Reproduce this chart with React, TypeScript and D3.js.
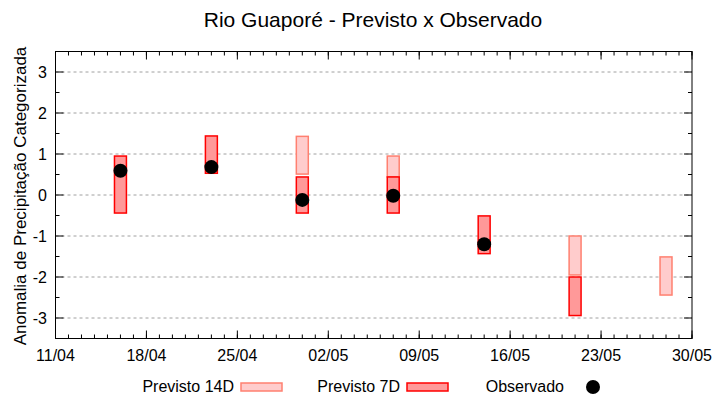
import React from "react";
import * as d3 from "d3";

const dates = ["2024-04-16", "2024-04-23", "2024-04-30", "2024-05-07", "2024-05-14", "2024-05-21", "2024-05-28"];
const prev14Top: (number | null)[] = [null, null, 1.43, 0.95, null, -1.0, -1.51];
const prev14Bot: (number | null)[] = [null, null, 0.51, 0.44, null, -1.95, -2.44];
const prev7Top: (number | null)[] = [0.95, 1.44, 0.44, 0.44, -0.51, -2.0, null];
const prev7Bot: (number | null)[] = [-0.44, 0.53, -0.44, -0.44, -1.43, -2.94, null];
const observed: (number | null)[] = [0.59, 0.68, -0.12, -0.02, -1.2, null, null];
const yTicks = [-3, -2, -1, 0, 1, 2, 3];
const xTickLabels = ["11/04", "18/04", "25/04", "02/05", "09/05", "16/05", "23/05", "30/05"];

const W = 720, H = 400;
const M = { left: 55.5, right: 692, top: 51.5, bottom: 338.5 };
const FONT = "'Liberation Sans', Arial, sans-serif";

const parse = d3.utcParse("%Y-%m-%d");
const start = parse("2024-04-11")!;
const end = parse("2024-05-30")!;

export default function App() {
  const x = d3.scaleUtc().domain([start, end]).range([M.left, M.right]);
  const y = d3.scaleLinear().domain([-3.5, 3.5]).range([M.bottom, M.top]);
  const dayPx = x(d3.utcDay.offset(start, 1)) - x(start);
  const bw = dayPx * 0.92;
  const days = d3.range(0, 50).map((k) => d3.utcDay.offset(start, k));
  const majors = d3.range(0, 50, 7).map((k) => d3.utcDay.offset(start, k));
  const minorY = d3.range(-3.5, 3.51, 0.5);

  return (
    <svg width={W} height={H} style={{ position: "absolute", left: 0, top: 0, background: "#fff" }} fontFamily={FONT}>
      <rect width={W} height={H} fill="#fff" />
      <text x={373} y={27} textAnchor="middle" fontSize={21}>Rio Guaporé - Previsto x Observado</text>
      <text transform={`translate(26,${(M.top + M.bottom) / 2 + 1}) rotate(-90)`} textAnchor="middle" fontSize={17}>
        Anomalia de Precipitação Categorizada
      </text>
      {yTicks.map((t) => (
        <g key={t}>
          <line x1={M.left} x2={M.right} y1={y(t)} y2={y(t)} stroke="#a0a0a0" strokeDasharray="3,3" strokeWidth={1} />
          <text x={47} y={y(t) + 6} textAnchor="end" fontSize={16}>{t}</text>
        </g>
      ))}
      {dates.map((d, i) =>
        prev14Top[i] !== null ? (
          <rect key={"a" + i} x={x(parse(d)!) - bw / 2} width={bw} y={y(prev14Top[i]!)} height={y(prev14Bot[i]!) - y(prev14Top[i]!)}
            fill="#ffcccc" stroke="#ff8070" strokeWidth={1.5} />
        ) : null
      )}
      {dates.map((d, i) =>
        prev7Top[i] !== null ? (
          <rect key={"b" + i} x={x(parse(d)!) - bw / 2} width={bw} y={y(prev7Top[i]!)} height={y(prev7Bot[i]!) - y(prev7Top[i]!)}
            fill="#ff9999" stroke="#ff0000" strokeWidth={1.5} />
        ) : null
      )}
      {dates.map((d, i) =>
        observed[i] !== null ? (
          <circle key={"c" + i} cx={x(parse(d)!)} cy={y(observed[i]!)} r={7} fill="#000" />
        ) : null
      )}
      <rect x={M.left} y={M.top} width={M.right - M.left} height={M.bottom - M.top} fill="none" stroke="#000" strokeWidth={1} />
      {days.map((d, i) => (
        <g key={"t" + i}>
          <line x1={x(d)} x2={x(d)} y1={M.bottom} y2={M.bottom - 4} stroke="#000" />
          <line x1={x(d)} x2={x(d)} y1={M.top} y2={M.top + 4} stroke="#000" />
        </g>
      ))}
      {majors.map((d, i) => (
        <g key={"m" + i}>
          <line x1={x(d)} x2={x(d)} y1={M.bottom} y2={M.bottom - 8} stroke="#000" />
          <line x1={x(d)} x2={x(d)} y1={M.top} y2={M.top + 8} stroke="#000" />
          <text x={x(d)} y={M.bottom + 22} textAnchor="middle" fontSize={16}>{xTickLabels[i]}</text>
        </g>
      ))}
      {minorY.map((t, i) => {
        const major = Number.isInteger(t);
        const len = major ? 8 : 4;
        return (
          <g key={"y" + i}>
            <line x1={M.left} x2={M.left + len} y1={y(t)} y2={y(t)} stroke="#000" />
            <line x1={M.right} x2={M.right - len} y1={y(t)} y2={y(t)} stroke="#000" />
          </g>
        );
      })}
      <text x={234} y={392} textAnchor="end" fontSize={16}>Previsto 14D</text>
      <rect x={241} y={383} width={41} height={8} fill="#ffcccc" stroke="#ff8070" strokeWidth={1.5} />
      <text x={400} y={392} textAnchor="end" fontSize={16}>Previsto 7D</text>
      <rect x={407} y={383} width={41} height={8} fill="#ff9999" stroke="#ff0000" strokeWidth={1.5} />
      <text x={564} y={392} textAnchor="end" fontSize={16}>Observado</text>
      <circle cx={593} cy={387} r={7} fill="#000" />
    </svg>
  );
}
